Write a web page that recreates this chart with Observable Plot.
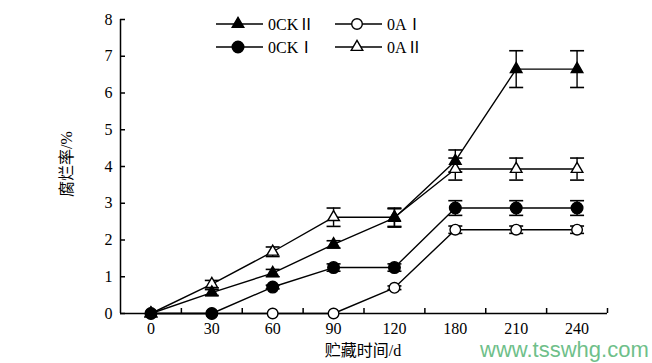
<!DOCTYPE html>
<html>
<head>
<meta charset="utf-8">
<script src="https://cdn.jsdelivr.net/npm/d3@7"></script>
<script src="https://cdn.jsdelivr.net/npm/@observablehq/plot@0.6"></script>
<style>
  body { margin: 0; background: #fff; }
  #wrap { position: relative; width: 652px; height: 363px; }
  #wm { position: absolute; left: 480px; top: 341px; height: 17px; line-height: 17px; font-family: "Liberation Sans", sans-serif; font-size: 22px; color: #6fbf8a; white-space: nowrap; }
</style>
</head>
<body>
<div id="wrap"><div id="wm">www.tsswhg.com</div></div>
<script>
const days = ["0", "30", "60", "90", "120", "180", "210", "240"];
const seriesNames = ["0CKⅡ", "0AⅠ", "0CKⅠ", "0AⅡ"];
const ck2 = [0, 0.57, 1.1, 1.88, 2.6, 4.15, 6.65, 6.65];
const ck2Err = [0, 0.08, 0.1, 0.1, 0.25, 0.3, 0.5, 0.5];
const a1 = [0, 0, 0, 0, 0.7, 2.28, 2.28, 2.28];
const a1Err = [0, 0, 0, 0, 0.05, 0.1, 0.1, 0.1];
const ck1 = [0, 0, 0.72, 1.25, 1.25, 2.87, 2.87, 2.87];
const ck1Err = [0, 0, 0.05, 0.1, 0.1, 0.2, 0.2, 0.2];
const a2 = [0, 0.8, 1.68, 2.62, 2.62, 3.93, 3.93, 3.93];
const a2Err = [0, 0.1, 0.13, 0.25, 0.25, 0.3, 0.3, 0.3];
const yTicks = [0, 1, 2, 3, 4, 5, 6, 7, 8];

const styles = {
  "0CKⅡ": {symbol: "triangle", fill: "black", r: 4.3},
  "0AⅠ": {symbol: "circle", fill: "white", r: 5.3},
  "0CKⅠ": {symbol: "circle", fill: "black", r: 5.8},
  "0AⅡ": {symbol: "triangle", fill: "white", r: 4.3}
};
const valuesBy = {"0CKⅡ": [ck2, ck2Err], "0AⅠ": [a1, a1Err], "0CKⅠ": [ck1, ck1Err], "0AⅡ": [a2, a2Err]};
const drawOrder = ["0AⅠ", "0CKⅠ", "0AⅡ", "0CKⅡ"];

const rows = [];
for (const s of drawOrder) {
  const [v, e] = valuesBy[s];
  days.forEach((d, i) => rows.push({series: s, i, day: d, v: v[i], e: e[i]}));
}

const capSymbol = {
  draw(context, size) {
    const r = Math.sqrt(size / Math.PI);
    context.moveTo(-r, 0);
    context.lineTo(r, 0);
  }
};

const font = '"Liberation Serif", "Noto Sans CJK SC", serif';

const marks = [
  Plot.ruleX([-0.5], {y1: 0, y2: 8, strokeWidth: 1.5}),
  Plot.ruleY([0], {x1: -0.5, x2: 7.5, strokeWidth: 1.5}),
  Plot.axisY({ticks: yTicks, tickSize: 0, tickPadding: 8, fontSize: 16, label: null}),
  Plot.axisY({ticks: yTicks, tickSize: -5, tickFormat: () => "", strokeWidth: 1.5, label: null}),
  Plot.axisX({ticks: d3.range(0.5, 8, 1), tickSize: -5, tickFormat: () => "", strokeWidth: 1.5, label: null}),
  Plot.axisX({ticks: d3.range(0, 8), tickSize: 0, tickPadding: 9, tickFormat: i => days[i], fontSize: 16, label: null})
];
for (const s of drawOrder) {
  const data = rows.filter(r => r.series === s);
  marks.push(Plot.line(data, {x: "i", y: "v", stroke: "black", strokeWidth: 1.4}));
}
for (const s of drawOrder) {
  const data = rows.filter(r => r.series === s && r.e > 0);
  marks.push(Plot.ruleX(data, {x: "i", y1: d => d.v - d.e, y2: d => d.v + d.e, stroke: "black", strokeWidth: 1.4}));
  marks.push(Plot.dot(data, {x: "i", y: d => d.v - d.e, symbol: capSymbol, r: 7, stroke: "black", strokeWidth: 1.6, fill: "none"}));
  marks.push(Plot.dot(data, {x: "i", y: d => d.v + d.e, symbol: capSymbol, r: 7, stroke: "black", strokeWidth: 1.6, fill: "none"}));
}
for (const s of drawOrder) {
  const data = rows.filter(r => r.series === s);
  const st = styles[s];
  marks.push(Plot.dot(data, {x: "i", y: "v", symbol: st.symbol, r: st.r, fill: st.fill, stroke: "black", strokeWidth: 1.4}));
}

const chart = Plot.plot({
  width: 652,
  height: 363,
  marginLeft: 120,
  marginRight: 45,
  marginTop: 19,
  marginBottom: 50,
  style: {fontFamily: font, fontSize: "16px", background: "white", color: "black"},
  x: {type: "linear", domain: [-0.5, 7.5]},
  y: {domain: [0, 8]},
  marks
});
document.getElementById("wrap").prepend(chart);

// Axis titles and legend
const svg = d3.select(chart);
svg.append("text")
  .attr("transform", "translate(72,164) rotate(-90)")
  .attr("text-anchor", "middle")
  .attr("font-family", font)
  .attr("font-size", 16)
  .text("腐烂率/%");
svg.append("text")
  .attr("x", 363).attr("y", 356)
  .attr("text-anchor", "middle")
  .attr("font-family", font)
  .attr("font-size", 16)
  .text("贮藏时间/d");

const legendPos = [[216, 24], [335, 24], [216, 47], [335, 47]];
seriesNames.forEach((s, k) => {
  const [lx, ly] = legendPos[k];
  const st = styles[s];
  const g = svg.append("g").attr("transform", `translate(${lx},${ly})`);
  g.append("line").attr("x1", 0).attr("x2", 47).attr("y1", 0).attr("y2", 0).attr("stroke", "black").attr("stroke-width", 1.4);
  const sym = st.symbol === "triangle" ? d3.symbolTriangle : d3.symbolCircle;
  g.append("path").attr("transform", "translate(22,0)")
    .attr("d", d3.symbol(sym, st.r * st.r * Math.PI)())
    .attr("fill", st.fill).attr("stroke", "black").attr("stroke-width", 1.4);
  g.append("text").attr("x", 52).attr("y", 0).attr("dy", "0.35em")
    .attr("text-anchor", "start")
    .attr("font-family", font).attr("font-size", 16).text(s);
});
</script>
</body>
</html>
